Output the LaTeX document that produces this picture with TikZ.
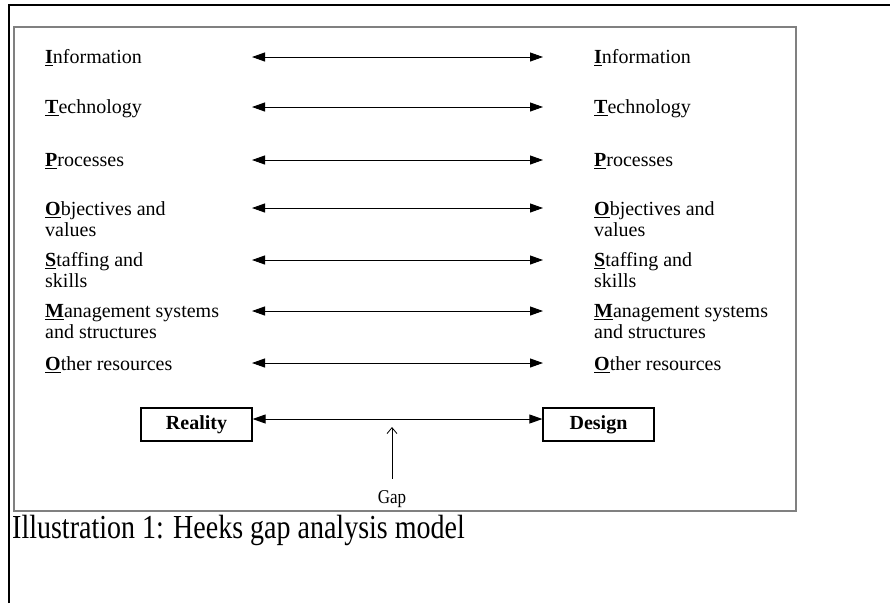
\documentclass[tikz,border=0pt]{standalone}
\usepackage{fontspec}
\setmainfont{Liberation Serif}
\usepackage{graphicx}
\usepackage{tikz}
\usetikzlibrary{arrows.meta,positioning}

% 带下划线的粗体首字母
\newcommand{\keyletter}[1]{\sbox0{\textbf{#1}}\rlap{\rule[-3pt]{\wd0}{1.4pt}}\usebox0}

\begin{document}
\begin{tikzpicture}[
    x=1pt, y=-1pt,
    % 文字标签样式 (多行时以最后一行基线定位)
    item style/.style={
        anchor=base west,    % 以基线左端定位
        inner sep=0pt,       % 内部填充为0
        align=left,          % 左对齐
        font=\fontsize{20}{21}\selectfont
    },
    % 方框样式
    box style/.style={
        draw,                % 绘制边框
        line width=1.2pt,
        minimum width=111pt, % 方框宽度
        minimum height=33pt, % 方框高度
        inner sep=0pt,
        font=\bfseries\fontsize{20}{22}\selectfont
    },
    % 双向箭头样式
    link style/.style={
        line width=0.9pt,
        {Triangle[length=13pt, width=9pt]}-{Triangle[length=13pt, width=9pt]}
    },
    % Gap 箭头样式
    gap style/.style={
        line width=0.8pt,
        -{Straight Barb[length=6pt, width=10pt]}
    }
]

% 外框
\useasboundingbox (0,0) rectangle (890,603);
\draw[line width=2pt] (9,603) -- (9,5) -- (890,5);
\draw[gray, line width=2pt] (14,27) rectangle (796,511);

% 左侧标签
\node[item style] (info-l)  at (45,63)  {\keyletter{I}nformation};
\node[item style] (tech-l)  at (45,113) {\keyletter{T}echnology};
\node[item style] (proc-l)  at (45,166) {\keyletter{P}rocesses};
\node[item style] (obj-l)   at (45,236) {\keyletter{O}bjectives and\\values};
\node[item style] (staff-l) at (45,287) {\keyletter{S}taffing and\\skills};
\node[item style] (mgmt-l)  at (45,338) {\keyletter{M}anagement systems\\and structures};
\node[item style] (other-l) at (45,370) {\keyletter{O}ther resources};

% 右侧标签
\node[item style] (info-r)  at (594,63)  {\keyletter{I}nformation};
\node[item style] (tech-r)  at (594,113) {\keyletter{T}echnology};
\node[item style] (proc-r)  at (594,166) {\keyletter{P}rocesses};
\node[item style] (obj-r)   at (594,236) {\keyletter{O}bjectives and\\values};
\node[item style] (staff-r) at (594,287) {\keyletter{S}taffing and\\skills};
\node[item style] (mgmt-r)  at (594,338) {\keyletter{M}anagement systems\\and structures};
\node[item style] (other-r) at (594,370) {\keyletter{O}ther resources};

% 箭头端点
\coordinate (info-a)  at (252,57);  \coordinate (info-b)  at (543,57);
\coordinate (tech-a)  at (252,107); \coordinate (tech-b)  at (543,107);
\coordinate (proc-a)  at (252,160); \coordinate (proc-b)  at (543,160);
\coordinate (obj-a)   at (252,208); \coordinate (obj-b)   at (543,208);
\coordinate (staff-a) at (252,260); \coordinate (staff-b) at (543,260);
\coordinate (mgmt-a)  at (252,311); \coordinate (mgmt-b)  at (543,311);
\coordinate (other-a) at (252,363); \coordinate (other-b) at (543,363);

\draw[link style] (info-a)  -- (info-b);
\draw[link style] (tech-a)  -- (tech-b);
\draw[link style] (proc-a)  -- (proc-b);
\draw[link style] (obj-a)   -- (obj-b);
\draw[link style] (staff-a) -- (staff-b);
\draw[link style] (mgmt-a)  -- (mgmt-b);
\draw[link style] (other-a) -- (other-b);

% Reality 与 Design
\node[box style] (reality) at (196.5,424.5) {Reality};
\node[box style] (design)  at (598.5,424.5) {Design};
\draw[link style] ([yshift=5.5pt]reality.east) -- ([yshift=5.5pt]design.west);

% Gap
\node[anchor=base, inner sep=0pt, font=\fontsize{17}{20}\selectfont] (gap) at (392,503) {\scalebox{1}[1.15]{Gap}};
\coordinate (gap-tip) at (392,427);
\draw[gap style] ([yshift=11pt]gap.north) -- (gap-tip);

% 图注
\node[anchor=base west, inner sep=0pt, font=\fontsize{28}{30}\selectfont] (caption) at (12,538) {\scalebox{1}[1.2]{Illustration 1: Heeks gap analysis model}};

\end{tikzpicture}
\end{document}
